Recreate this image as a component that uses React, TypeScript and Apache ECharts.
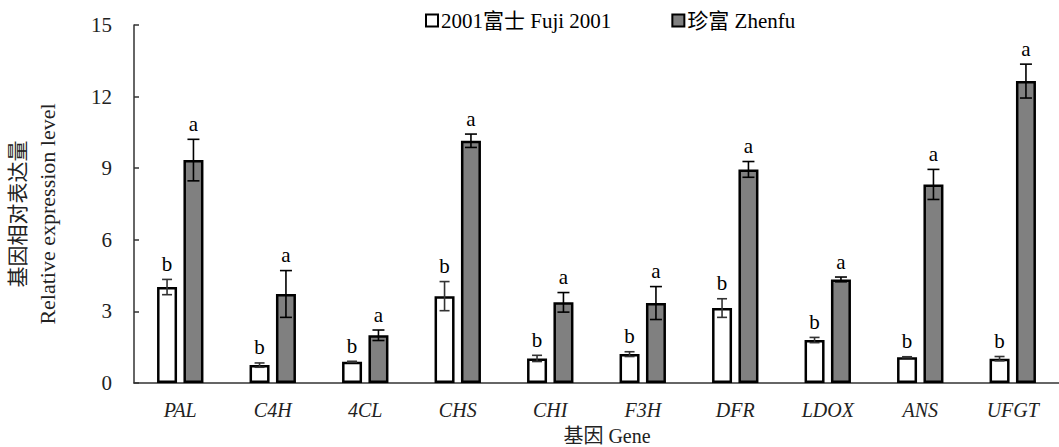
import React, { useEffect, useRef } from "react";
import * as echarts from "echarts";

const genes = ["PAL", "C4H", "4CL", "CHS", "CHI", "F3H", "DFR", "LDOX", "ANS", "UFGT"];
const fujiValues = [4.02, 0.75, 0.89, 3.64, 1.03, 1.21, 3.14, 1.8, 1.08, 1.02];
const fujiErrors = [0.32, 0.09, 0.02, 0.61, 0.13, 0.1, 0.39, 0.11, 0.02, 0.09];
const zhenfuValues = [9.34, 3.73, 2.0, 10.15, 3.38, 3.35, 8.95, 4.34, 8.32, 12.65];
const zhenfuErrors = [0.87, 0.98, 0.22, 0.28, 0.41, 0.69, 0.33, 0.1, 0.63, 0.71];
const fujiLetters = ["b", "b", "b", "b", "b", "b", "b", "b", "b", "b"];
const zhenfuLetters = ["a", "a", "a", "a", "a", "a", "a", "a", "a", "a"];
const yTicks = { min: 0, max: 15, interval: 3 };
const seriesNames = ["2001富士 Fuji 2001", "珍富 Zhenfu"];

const FONT = "'Liberation Serif', 'Times New Roman', 'Noto Sans CJK SC', serif";
const BAR_W = 20;
const BAR_GAP = 0.32;

function errorSeries(values: number[], errors: number[], letters: string[], side: number, color: string) {
  const offset = side * (BAR_W + BAR_W * BAR_GAP) / 2;
  return {
    type: "custom",
    silent: true,
    z: 10,
    data: values.map((v, i) => [i, v, errors[i]]),
    renderItem: (params: any, api: any) => {
      const idx = api.value(0);
      const v = api.value(1);
      const e = api.value(2);
      const top = api.coord([idx, v + e]);
      const bot = api.coord([idx, v - e]);
      const x = top[0] + offset;
      const cap = side < 0 ? 5 : 6;
      return {
        type: "group",
        children: [
          { type: "line", shape: { x1: x, y1: top[1], x2: x, y2: bot[1] }, style: { stroke: color, lineWidth: 1.6 } },
          { type: "line", shape: { x1: x - cap, y1: top[1], x2: x + cap, y2: top[1] }, style: { stroke: color, lineWidth: 1.6 } },
          { type: "line", shape: { x1: x - cap, y1: bot[1], x2: x + cap, y2: bot[1] }, style: { stroke: color, lineWidth: 1.6 } },
          {
            type: "text",
            x: x,
            y: top[1] - 5,
            style: {
              text: letters[params.dataIndex],
              fontFamily: FONT,
              fontSize: 21,
              fill: "#000",
              textAlign: "center",
              textVerticalAlign: "bottom",
            },
          },
        ],
      };
    },
  };
}

export default function App() {
  const ref = useRef<HTMLDivElement>(null);
  useEffect(() => {
    if (!ref.current) return;
    const chart = echarts.init(ref.current, undefined, { renderer: "svg" });
    chart.setOption({
      animation: false,
      backgroundColor: "#fff",
      textStyle: { fontFamily: FONT },
      grid: { left: 134, top: 25, bottom: 64, right: -6, containLabel: false },
      legend: {
        left: 420,
        top: 5,
        itemWidth: 12,
        itemHeight: 12,
        itemGap: 60,
        icon: "rect",
        textStyle: { fontFamily: FONT, fontSize: 21, color: "#000", padding: [0, 0, 0, -2] },
        data: seriesNames,
      },
      xAxis: {
        type: "category",
        data: genes,
        axisLine: { lineStyle: { color: "#333", width: 1.5 } },
        axisTick: { inside: true, length: 6, lineStyle: { color: "#333", width: 1.5 } },
        axisLabel: { fontFamily: FONT, fontStyle: "italic", fontSize: 20, color: "#222", margin: 17 },
      },
      yAxis: {
        type: "value",
        min: yTicks.min,
        max: yTicks.max,
        interval: yTicks.interval,
        splitLine: { show: false },
        axisLine: { show: true, lineStyle: { color: "#333", width: 1.5 } },
        axisTick: { show: true, inside: true, length: 5, lineStyle: { color: "#333", width: 1.5 } },
        axisLabel: { fontFamily: FONT, fontSize: 21, color: "#222", margin: 22 },
      },
      graphic: [
        {
          type: "text",
          x: 18,
          y: 214,
          rotation: Math.PI / 2,
          style: { text: "基因相对表达量", fontFamily: FONT, fontSize: 21, fill: "#222", textAlign: "center", textVerticalAlign: "middle" },
        },
        {
          type: "text",
          x: 47,
          y: 214,
          rotation: Math.PI / 2,
          style: { text: "Relative expression level", fontFamily: FONT, fontSize: 22, fill: "#222", textAlign: "center", textVerticalAlign: "middle" },
        },
        {
          type: "text",
          x: 607,
          y: 436,
          style: { text: "基因 Gene", fontFamily: FONT, fontSize: 20, fill: "#222", textAlign: "center", textVerticalAlign: "middle" },
        },
      ],
      series: [
        {
          name: seriesNames[0],
          type: "bar",
          data: fujiValues,
          barWidth: BAR_W,
          barGap: BAR_GAP * 100 + "%",
          itemStyle: { color: "#fff", borderColor: "#000", borderWidth: 2.5 },
        },
        {
          name: seriesNames[1],
          type: "bar",
          data: zhenfuValues,
          barWidth: BAR_W,
          barGap: BAR_GAP * 100 + "%",
          itemStyle: { color: "#808080", borderColor: "#000", borderWidth: 2.5 },
        },
        errorSeries(fujiValues, fujiErrors, fujiLetters, -1, "#333"),
        errorSeries(zhenfuValues, zhenfuErrors, zhenfuLetters, 1, "#000"),
      ],
    });
    return () => chart.dispose();
  }, []);
  return <div ref={ref} style={{ position: "fixed", left: 0, top: 0, width: 1059, height: 447 }} />;
}
